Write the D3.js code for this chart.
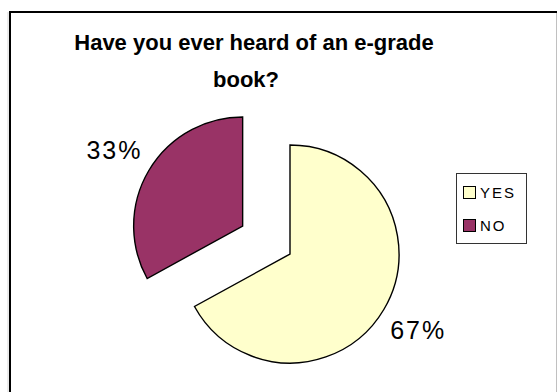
<!DOCTYPE html>
<html>
<head>
<meta charset="utf-8">
<script src="https://cdn.jsdelivr.net/npm/d3@7"></script>
<style>
  html, body { margin: 0; padding: 0; background: #fff; }
  svg { display: block; font-family: "Liberation Sans", Arial, sans-serif; }
</style>
</head>
<body>
<svg id="chart" width="557" height="392"></svg>
<script>
// Survey answers
const titleLines = ["Have you ever heard of an e-grade", "book?"];
const categories = ["YES", "NO"];
const values = [67, 33];
const colors = ["#FFFFCC", "#993366"];

const svg = d3.select("#chart");
const W = 557, H = 392;

// Chart frame (open to the right and bottom edges of the page)
svg.append("rect").attr("x", 0).attr("y", 0).attr("width", W).attr("height", H).attr("fill", "#fff");
svg.append("line").attr("x1", 8).attr("x2", 8).attr("y1", 12).attr("y2", H)
  .attr("stroke", "#d8d8d8").attr("stroke-width", 1);
svg.append("path")
  .attr("d", `M10,${H} L10,12 L${W},12`)
  .attr("fill", "none").attr("stroke", "#000").attr("stroke-width", 2);
svg.append("line").attr("x1", 556.5).attr("x2", 556.5).attr("y1", 13).attr("y2", H)
  .attr("stroke", "#c0c0c0").attr("stroke-width", 1);

// Title, two centred lines
svg.append("text")
  .attr("font-size", 22).attr("font-weight", "bold").attr("text-anchor", "middle")
  .selectAll("tspan").data(titleLines).join("tspan")
  .attr("x", (d, i) => i === 0 ? 254 : 246)
  .attr("y", (d, i) => 50 + i * 37)
  .text(d => d);

// Pie
const cx = 290, cy = 254, r = 109;
const explode = [0, 55];
const labelR = 149;

const pie = d3.pie().sort(null).startAngle(0).endAngle(2 * Math.PI);
const arcs = pie(values);
const arc = d3.arc().innerRadius(0).outerRadius(r);

const total = d3.sum(values);
const g = svg.append("g").attr("transform", `translate(${cx},${cy})`);

const slice = g.selectAll("g.slice").data(arcs).join("g")
  .attr("class", "slice")
  .attr("transform", (d, i) => {
    const a = (d.startAngle + d.endAngle) / 2;
    return `translate(${Math.sin(a) * explode[i]},${-Math.cos(a) * explode[i]})`;
  });

slice.append("path")
  .attr("d", arc)
  .attr("fill", (d, i) => colors[i])
  .attr("stroke", "#000").attr("stroke-width", 1.4).attr("stroke-linejoin", "miter");

slice.append("text")
  .attr("x", d => Math.sin((d.startAngle + d.endAngle) / 2) * labelR)
  .attr("y", d => -Math.cos((d.startAngle + d.endAngle) / 2) * labelR + 9)
  .attr("text-anchor", "middle")
  .attr("font-size", 25).attr("letter-spacing", 2)
  .text(d => Math.round(d.value / total * 100) + "%");

// Legend
const legend = svg.append("g").attr("transform", "translate(456,173)");
legend.append("rect").attr("x", 0.5).attr("y", 0.5).attr("width", 70).attr("height", 70)
  .attr("fill", "#fff").attr("stroke", "#333").attr("stroke-width", 1);
const item = legend.selectAll("g.item").data(categories).join("g")
  .attr("class", "item")
  .attr("transform", (d, i) => `translate(0,${13 + i * 33})`);
item.append("rect").attr("x", 7.5).attr("y", 0.5).attr("width", 12).attr("height", 12)
  .attr("fill", (d, i) => colors[i]).attr("stroke", "#000").attr("stroke-width", 1);
item.append("text").attr("x", 24).attr("y", 11.5)
  .attr("font-size", 15).attr("letter-spacing", 2)
  .text(d => d);
</script>
</body>
</html>
